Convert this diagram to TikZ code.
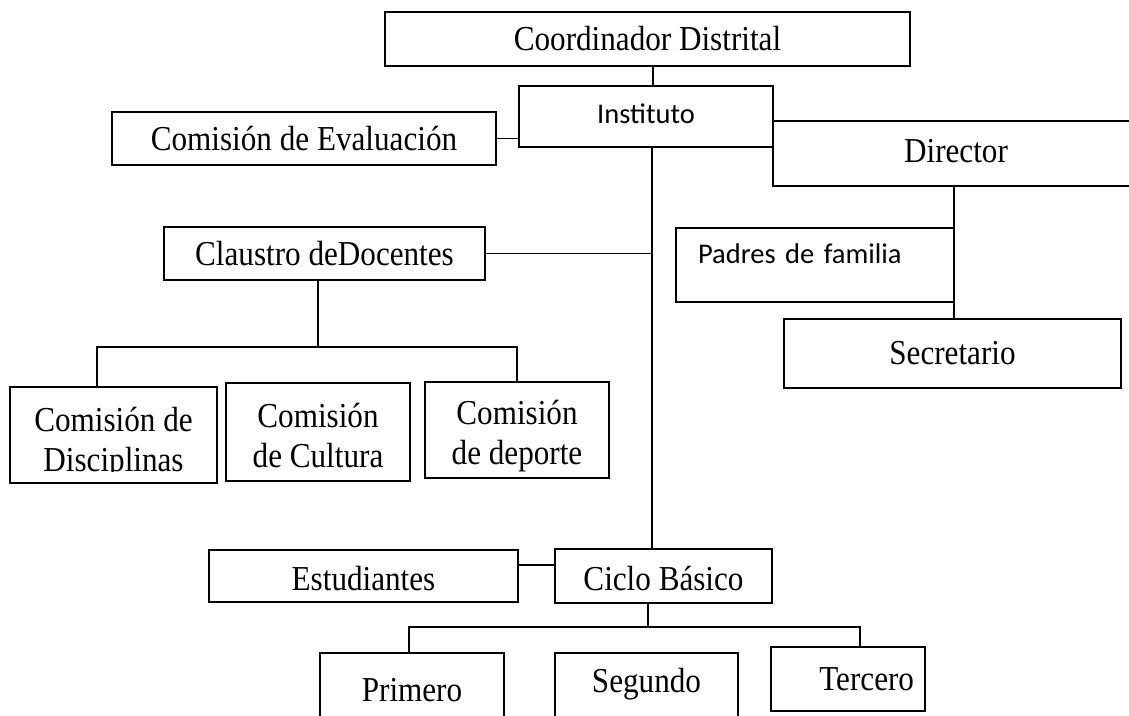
\documentclass[tikz,border=0pt]{standalone}
\usepackage{fontspec}
\setmainfont{Liberation Serif}[FakeStretch=0.89]
\newfontfamily\calfont{Carlito}
\begin{document}
\begin{tikzpicture}[x=1pt,y=1pt,
  tnr/.style={font=\fontsize{35}{40}\selectfont, align=center},
  box/.style={draw, line width=1.6pt, inner sep=0pt, tnr},
  sbox/.style={box, font=\calfont\fontsize{28.5}{34}\selectfont},
  link/.style={line width=1.2pt}]
\useasboundingbox (0,0) rectangle (1129,-715);
\clip (0,0) rectangle (1129,-715);

% boxes
\node[box, minimum width=525pt, minimum height=54pt] (coord) at (647.5,-39) {Coordinador Distrital};
\node[sbox, minimum width=254pt, minimum height=61pt, text height=20pt, text depth=7pt] (inst) at (646,-116.5) {Instituto};
\node[box, minimum width=384pt, minimum height=53pt] (eval) at (304,-138.5) {Comisión de Evaluación};
\node[box, minimum width=366pt, minimum height=65pt, text height=22pt, text depth=5pt] (dir) at (956,-153.5) {Director};
\node[box, minimum width=321pt, minimum height=53pt] (claus) at (324.5,-253.5) {Claustro deDocentes};
\node[sbox, minimum width=278pt, minimum height=74pt, inner xsep=22pt, text width=234pt, align=left, text height=20pt, text depth=24pt] (padres) at (815,-265) {Padres de familia};
\node[box, minimum width=337pt, minimum height=69pt] (secr) at (952.5,-353.5) {Secretario};
\node[box, minimum width=207pt, minimum height=96pt] (disc) at (113.5,-435) {};
\begin{scope}
  \clip (12,-380) rectangle (215,-471);
  \node[tnr, inner sep=0pt] (disctext) at (113.5,-443) {Comisión de\\Disciplinas};
\end{scope}
\node[box, minimum width=184pt, minimum height=98pt] (cult) at (318,-432) {};
\node[tnr, inner sep=0pt] (culttext) at (318,-435) {Comisión\\de Cultura};
\node[box, minimum width=184pt, minimum height=96pt] (dep) at (517,-430) {};
\node[tnr, inner sep=0pt] (deptext) at (517,-436) {Comisión\\de deporte};
\node[box, minimum width=309pt, minimum height=52pt, text height=28pt, text depth=0pt] (est) at (363.5,-576) {Estudiantes};
\node[box, minimum width=217pt, minimum height=54pt, text height=28pt, text depth=0pt] (ciclo) at (663.5,-576) {Ciclo Básico};
\node[box, minimum width=184pt, minimum height=74pt] (prim) at (412,-690) {Primero};
\node[box, minimum width=183pt, minimum height=74pt, text height=24pt, text depth=20pt] (seg) at (646.5,-690) {Segundo};
\node[box, minimum width=154pt, minimum height=64pt, inner xsep=11pt, text width=132pt, align=right] (terc) at (848,-679) {Tercero};

% connectors
\coordinate (t) at (653,0);
\coordinate (tr) at (652,0);
\coordinate (sx) at (954,0);
\draw[link] (coord.south -| t) -- (inst.north -| t);
\draw[link] (eval.east) -- (eval.east -| inst.west);
\draw[link] (inst.south -| tr) -- (ciclo.north -| tr);
\draw[link] (claus.east) -- (claus.east -| tr);
\draw[link] (dir.south -| sx) -- (secr.north -| sx);

\coordinate (cb) at (318,-347);
\coordinate (cl) at (97,-347);
\draw[link] (claus.south -| cb) -- (cb);
\draw[link] (disc.north -| cl) -- (cl) -- (cb -| dep.north) -- (dep.north);

\coordinate (eb) at (0,-565);
\draw[link] (est.east |- eb) -- (ciclo.west |- eb);

\coordinate (bb) at (648,-627);
\coordinate (bl) at (409,-627);
\coordinate (br) at (860,-627);
\draw[link] (ciclo.south -| bb) -- (bb);
\draw[link] (prim.north -| bl) -- (bl) -- (br) -- (terc.north -| br);
\end{tikzpicture}
\end{document}
